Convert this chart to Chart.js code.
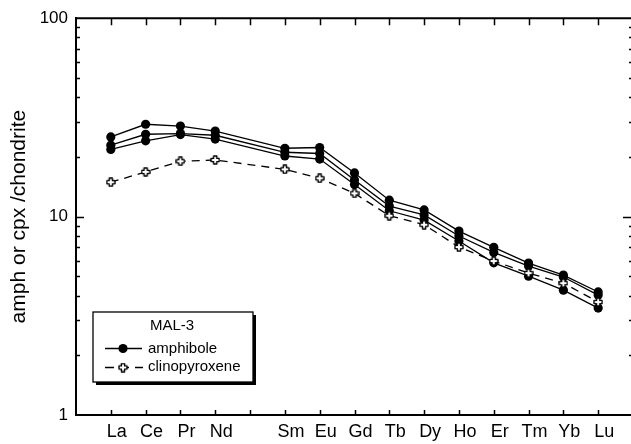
<!DOCTYPE html>
<html>
<head>
<meta charset="utf-8">
<title>MAL-3 REE</title>
<script src="https://cdn.jsdelivr.net/npm/chart.js@4.4.1/dist/chart.umd.min.js"></script>
<style>
  html, body { margin: 0; padding: 0; background: #fff; overflow: hidden; }
  #wrap { position: absolute; left: 0; top: 0; width: 640px; height: 444px; }
</style>
</head>
<body>
<div id="wrap"><canvas id="ree" width="640" height="444"></canvas></div>
<script>
// chondrite-normalised REE, sample MAL-3
const elements = ['La', 'Ce', 'Pr', 'Nd', 'Sm', 'Eu', 'Gd', 'Tb', 'Dy', 'Ho', 'Er', 'Tm', 'Yb', 'Lu'];
// slot on the x axis for each element (Pm slot left empty)
const positions = [1, 2, 3, 4, 6, 7, 8, 9, 10, 11, 12, 13, 14, 15];

const amph1 = [25.2, 29.2, 28.6, 27.0, 22.1, 22.3, 16.6, 12.1, 10.8, 8.45, 7.0, 5.83, 5.07, 4.17];
const amph2 = [22.9, 26.0, 26.2, 25.7, 21.1, 20.8, 15.3, 11.3, 10.2, 7.98, 6.6, 5.63, 4.96, 4.02];
const amph3 = [21.8, 24.1, 25.9, 24.6, 20.2, 19.5, 14.5, 10.7, 9.6, 7.53, 5.85, 5.01, 4.26, 3.46];
const cpx   = [14.9, 16.8, 19.0, 19.3, 17.3, 15.6, 13.1, 10.1, 9.1, 7.02, 5.97, 5.19, 4.62, 3.71];

const yLabels = [1, 10, 100];

const FONT = '"Liberation Sans", Arial, Helvetica, sans-serif';

function pts(vals) {
  return vals.map((v, i) => ({ x: positions[i], y: v }));
}

// open "plus" symbol used for clinopyroxene
function plusMarker(size) {
  const c = document.createElement('canvas');
  c.width = c.height = size;
  const g = c.getContext('2d');
  const m = size / 2, a = size * 0.16, r = size / 2 - 1;
  g.beginPath();
  g.moveTo(m - a, m - r); g.lineTo(m + a, m - r); g.lineTo(m + a, m - a);
  g.lineTo(m + r, m - a); g.lineTo(m + r, m + a); g.lineTo(m + a, m + a);
  g.lineTo(m + a, m + r); g.lineTo(m - a, m + r); g.lineTo(m - a, m + a);
  g.lineTo(m - r, m + a); g.lineTo(m - r, m - a); g.lineTo(m - a, m - a);
  g.closePath();
  g.fillStyle = '#fff';
  g.fill();
  g.lineJoin = 'round';
  g.lineWidth = 1.4;
  g.strokeStyle = '#000';
  g.stroke();
  return c;
}
const plus = plusMarker(10);

function amphSet(vals) {
  return {
    data: pts(vals), borderColor: '#000', borderWidth: 1.3,
    pointRadius: 4.6, pointBackgroundColor: '#000', pointBorderColor: '#000', pointBorderWidth: 0
  };
}

// inward ticks on all four sides + top edge of the frame
const framePlugin = {
  id: 'frame',
  beforeDatasetsDraw(chart) {
    const { ctx, chartArea: a, scales: { x, y } } = chart;
    ctx.save();
    ctx.strokeStyle = '#000';
    ctx.lineWidth = 2;
    ctx.beginPath();
    ctx.moveTo(a.left - 1, a.top); ctx.lineTo(a.right + 1, a.top);
    ctx.moveTo(a.right, a.top); ctx.lineTo(a.right, a.bottom);
    ctx.stroke();

    ctx.lineWidth = 1.5;
    ctx.beginPath();
    for (let i = 1; i <= 15; i++) {
      const px = Math.round(x.getPixelForValue(i)) + 0.5;
      ctx.moveTo(px, a.top); ctx.lineTo(px, a.top + 7);
      ctx.moveTo(px, a.bottom); ctx.lineTo(px, a.bottom - 5);
    }
    [1, 10].forEach(d => {
      for (let k = 2; k <= 9; k++) {
        const py = Math.round(y.getPixelForValue(k * d)) + 0.5;
        ctx.moveTo(a.left, py); ctx.lineTo(a.left + 4, py);
        ctx.moveTo(a.right, py); ctx.lineTo(a.right - 4, py);
      }
    });
    const p10 = Math.round(y.getPixelForValue(10)) + 0.5;
    ctx.moveTo(a.left, p10); ctx.lineTo(a.left + 8, p10);
    ctx.moveTo(a.right, p10); ctx.lineTo(a.right - 10, p10);
    ctx.stroke();
    ctx.restore();
  }
};

// boxed key with drop shadow
const keyPlugin = {
  id: 'sampleKey',
  afterDraw(chart) {
    const ctx = chart.ctx;
    const bx = 93, by = 312, bw = 160, bh = 70;
    ctx.save();
    ctx.fillStyle = '#000';
    ctx.fillRect(bx + 3, by + 3, bw, bh);
    ctx.fillStyle = '#fff';
    ctx.fillRect(bx, by, bw, bh);
    ctx.strokeStyle = '#000';
    ctx.lineWidth = 1.3;
    ctx.strokeRect(bx, by, bw, bh);

    ctx.fillStyle = '#000';
    ctx.font = '15px ' + FONT;
    ctx.textBaseline = 'middle';
    ctx.textAlign = 'center';
    ctx.fillText('MAL-3', 172, 326);

    ctx.textAlign = 'left';
    ctx.lineWidth = 1.3;
    ctx.beginPath();
    ctx.moveTo(105, 348.5); ctx.lineTo(142, 348.5);
    ctx.stroke();
    ctx.beginPath();
    ctx.arc(123, 348.5, 4.6, 0, Math.PI * 2);
    ctx.fill();
    ctx.fillText('amphibole', 148, 349);

    ctx.setLineDash([9, 6]);
    ctx.beginPath();
    ctx.moveTo(105, 367.5); ctx.lineTo(143, 367.5);
    ctx.stroke();
    ctx.setLineDash([]);
    ctx.drawImage(plus, 123 - 5, 367.5 - 5);
    ctx.fillText('clinopyroxene', 148, 367);
    ctx.restore();
  }
};

new Chart(document.getElementById('ree').getContext('2d'), {
  type: 'line',
  data: {
    datasets: [
      {
        data: pts(cpx), borderColor: '#000', borderWidth: 1.3, borderDash: [8, 6],
        pointStyle: plus, pointRadius: 5
      },
      amphSet(amph1),
      amphSet(amph2),
      amphSet(amph3)
    ]
  },
  options: {
    responsive: false,
    animation: false,
    devicePixelRatio: 1,
    layout: { padding: { left: 0, right: 7, top: 18, bottom: 0 } },
    plugins: { legend: { display: false }, tooltip: { enabled: false } },
    elements: { line: { tension: 0 } },
    scales: {
      x: {
        type: 'linear', min: 0, max: 16,
        afterFit: s => { s.height = 29; },
        afterBuildTicks: s => { s.ticks = positions.map(v => ({ value: v })); },
        grid: { display: false, drawTicks: false },
        border: { display: true, color: '#000', width: 2 },
        ticks: {
          autoSkip: false, maxRotation: 0, padding: 6, labelOffset: 6, color: '#000',
          font: { family: FONT, size: 18 },
          callback: v => elements[positions.indexOf(v)] || ''
        }
      },
      y: {
        type: 'logarithmic', min: 1, max: 100,
        afterFit: s => { s.width = 76; },
        afterBuildTicks: s => { s.ticks = yLabels.map(v => ({ value: v })); },
        grid: { display: false, drawTicks: false },
        border: { display: true, color: '#000', width: 2 },
        ticks: {
          padding: 8, color: '#000',
          font: { family: FONT, size: 17 },
          callback: v => String(v)
        },
        title: {
          display: true, text: 'amph or cpx /chondrite', color: '#000',
          font: { family: FONT, size: 21 },
          padding: { top: 7, bottom: 0 }
        }
      }
    }
  },
  plugins: [framePlugin, keyPlugin]
});
</script>
</body>
</html>
